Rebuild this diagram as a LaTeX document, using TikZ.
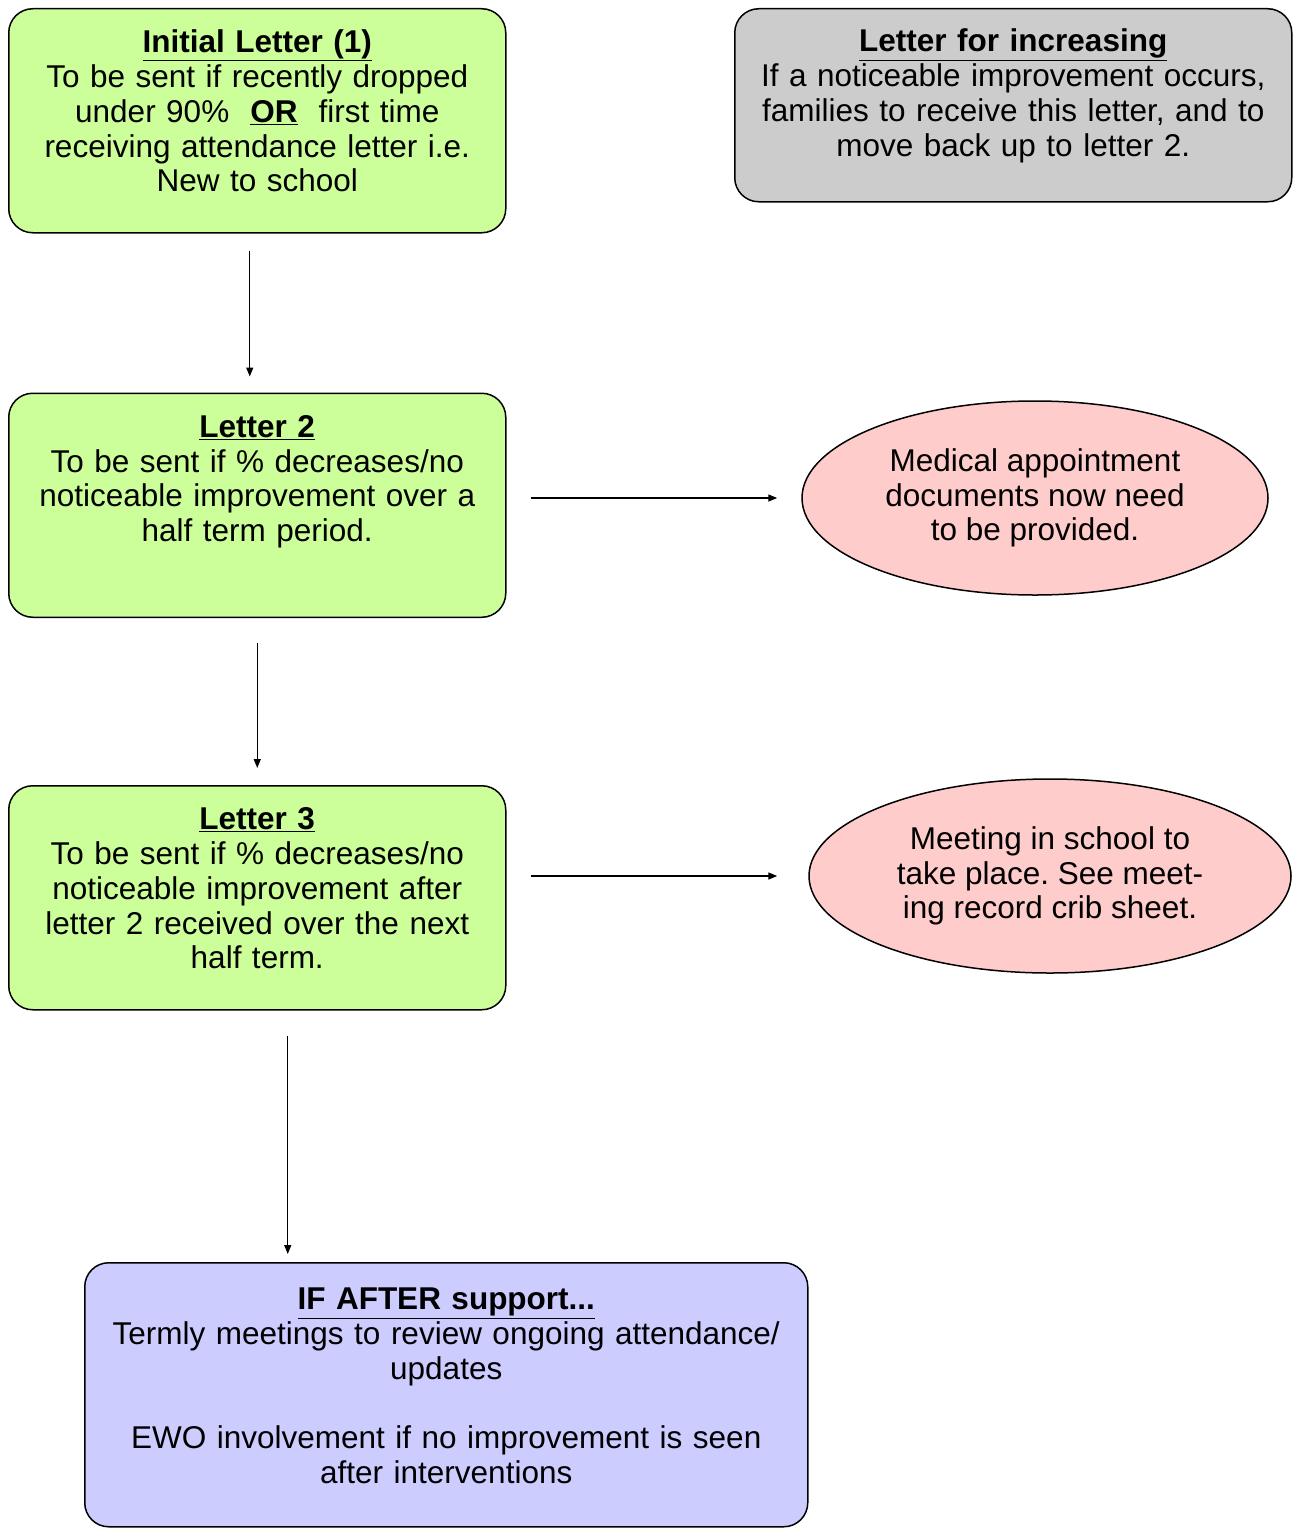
\documentclass[tikz,border=0pt]{standalone}
\usepackage{fontspec}
\setmainfont{Liberation Sans}
\usepackage{tikz}
\usetikzlibrary{shapes.geometric, positioning, arrows.meta, calc}
\definecolor{lettergreen}{HTML}{CCFF99}
\definecolor{meetpink}{HTML}{FFCCCC}
\definecolor{incgray}{HTML}{CCCCCC}
\definecolor{afterblue}{HTML}{CCCCFF}
\newcommand{\boxtitle}[1]{\textbf{\underline{#1}}}
\frenchspacing
\tikzset{
  letterbox/.style={rectangle, rounded corners=24pt, draw=black, line width=1.5pt, fill=lettergreen, inner xsep=0pt, inner ysep=0pt, minimum width=497pt, text width=480pt, align=center, text height=44pt},
  meetingbox/.style={ellipse, draw=black, line width=1.5pt, fill=meetpink, inner sep=0pt, minimum height=194pt, align=center},
  arrow/.style={line width=1.4pt, -{Triangle[length=9pt, width=7pt]}}
}
\begin{document}
\begin{tikzpicture}[
    x=1pt, y=-1pt,
    node distance=159pt and 24pt,
    every node/.style={font=\fontsize{31.5}{34.8}\selectfont}
]
    \useasboundingbox (0,0) rectangle (1293,1528);
    \node (init) [letterbox, anchor=north west, text depth=180pt] at (8,8) {\boxtitle{Initial Letter (1)}\\ To be sent if recently dropped\\ under 90\%\ \ \boxtitle{OR}\ \ first time\\ receiving attendance letter i.e.\\ New to school};
    \node (increase) [letterbox, fill=incgray, anchor=north west, minimum width=557pt, text width=540pt, text height=43pt, text depth=150pt] at (734,8) {\boxtitle{Letter for increasing}\\ If a noticeable improvement occurs,\\ families to receive this letter, and to\\ move back up to letter 2.};
    \node (letter2) [letterbox, below=of init, text depth=180pt] {\boxtitle{Letter 2}\\ To be sent if \% decreases/no\\ noticeable improvement over a\\ half term period.};
    \node (letter3) [letterbox, below=167pt of letter2, text depth=180pt] {\boxtitle{Letter 3}\\ To be sent if \% decreases/no\\ noticeable improvement after\\ letter 2 received over the next\\ half term.};
    \node (after) [letterbox, fill=afterblue, anchor=north west, minimum width=723pt, text width=700pt, text height=47pt, text depth=217pt] at (84,1262) {\boxtitle{IF AFTER support...}\\ Termly meetings to review ongoing attendance/\\ updates\\ \mbox{}\\ EWO involvement if no improvement is seen\\ after interventions};
    \node (medical) [meetingbox, minimum width=466pt] at (1035,498) {Medical appointment\\ documents now need\\ to be provided.};
    \node (meeting) [meetingbox, minimum width=482pt] at (1050,876) {Meeting in school to\\ take place. See meet-\\ ing record crib sheet.};

    \draw [arrow, shorten <=17pt, shorten >=16pt] ([xshift=-7.5pt]init.south) -- ([xshift=-7.5pt]letter2.north);
    \draw [arrow, shorten <=25pt, shorten >=17pt] (letter2.south) -- (letter3.north);
    \draw [arrow, shorten <=25pt, shorten >=8pt] ([xshift=30.5pt]letter3.south) -- ([xshift=30.5pt]letter3.south |- after.north);
    \draw [arrow, shorten <=24pt, shorten >=24pt] (letter2.east |- medical.west) -- (medical.west);
    \draw [arrow, shorten <=24pt, shorten >=31pt] (letter3.east |- meeting.west) -- (meeting.west);
\end{tikzpicture}
\end{document}
